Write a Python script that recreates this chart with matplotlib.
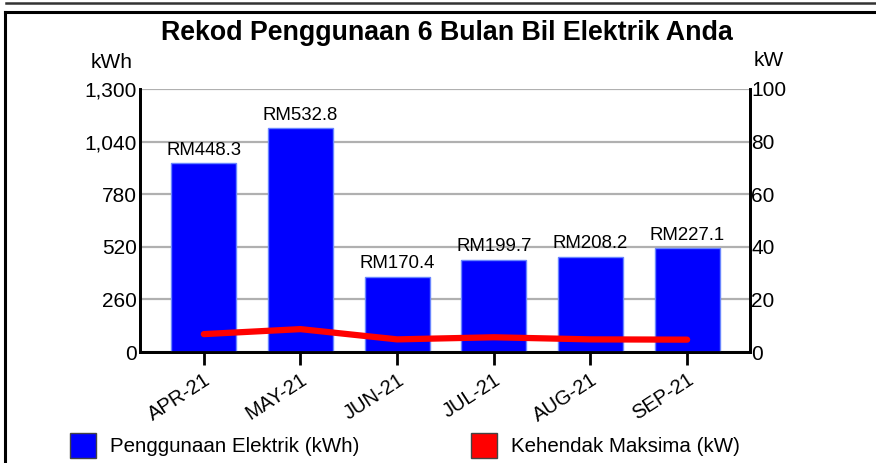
import numpy as np
import matplotlib.pyplot as plt
from matplotlib.lines import Line2D
from matplotlib.patches import Rectangle

plt.rcParams['font.family'] = ['Liberation Sans', 'DejaVu Sans']

months = ['APR-21', 'MAY-21', 'JUN-21', 'JUL-21', 'AUG-21', 'SEP-21']
kwh = [934, 1107, 371, 455, 470, 514]
bill = ['RM448.3', 'RM532.8', 'RM170.4', 'RM199.7', 'RM208.2', 'RM227.1']
kw = [6.8, 8.7, 4.8, 5.6, 4.8, 4.7]

fig = plt.figure(figsize=(8.76, 4.63), dpi=100)
ax = fig.add_axes([140 / 876, 111 / 463, 610 / 876, 263 / 463])
ax2 = ax.twinx()

x = np.arange(len(months))
ax.bar(x, kwh, width=0.67, color='#0000ff', edgecolor='#6a86ff', linewidth=1, zorder=3)
for xi, v, t in zip(x, kwh, bill):
    ax.text(xi, v + 22, t, ha='center', va='bottom', fontsize=13.4, zorder=4)

ax2.plot(x, kw, color='#ff0000', linewidth=4.5, solid_capstyle='round', zorder=5)

ax.set_xlim(-0.66, 5.65)
ax.set_ylim(0, 1300)
ax2.set_ylim(0, 100)
ax.set_yticks([0, 260, 520, 780, 1040, 1300])
ax.set_yticklabels(['0', '260', '520', '780', '1,040', '1,300'], fontsize=15)
ax2.set_yticks([0, 20, 40, 60, 80, 100])
ax2.set_yticklabels(['0', '20', '40', '60', '80', '100'], fontsize=15)
ax.set_xticks(x)
ax.set_xticklabels(months, fontsize=14.5, rotation=33, ha='right', rotation_mode='anchor')

ax.grid(axis='y', color='#b0b0b0', linewidth=1.6, zorder=0)
ax.set_axisbelow(True)
ax.tick_params(axis='y', length=0, pad=2)
ax2.tick_params(axis='y', length=0, pad=1)
ax.tick_params(axis='x', length=9, width=2, pad=4)
for a in (ax, ax2):
    a.spines['top'].set_visible(False)
    for s in ('left', 'right', 'bottom'):
        a.spines[s].set_linewidth(2)
ax2.set_zorder(ax.get_zorder() + 1)

fig.text(0.51, 0.928, 'Rekod Penggunaan 6 Bulan Bil Elektrik Anda', ha='center', va='center',
         fontsize=19.3, fontweight='bold')
fig.text(112 / 876, 1 - 62 / 463, 'kWh', ha='center', va='center', fontsize=15)
fig.text(769 / 876, 1 - 60 / 463, 'kW', ha='center', va='center', fontsize=15)

# outer frame
fig.add_artist(Line2D([6 / 876, 1], [1 - 3 / 463] * 2, color='#333333', linewidth=1.8))
fig.add_artist(Line2D([5 / 876, 1], [1 - 12 / 463] * 2, color='black', linewidth=2.2))
fig.add_artist(Line2D([5 / 876] * 2, [0, 1 - 12 / 463], color='black', linewidth=2.2))

# legend
legend_items = [('Penggunaan Elektrik (kWh)', '#0000ff', 70), ('Kehendak Maksima (kW)', '#ff0000', 471)]
for label, col, lx in legend_items:
    fig.add_artist(Rectangle((lx / 876, 5 / 463), 26 / 876, 25 / 463, facecolor=col,
                             edgecolor='#444444', linewidth=1, transform=fig.transFigure))
    fig.text((lx + 40) / 876, 1 - 447 / 463, label, ha='left', va='center', fontsize=14.8)

fig.savefig('out.png', dpi=100)
